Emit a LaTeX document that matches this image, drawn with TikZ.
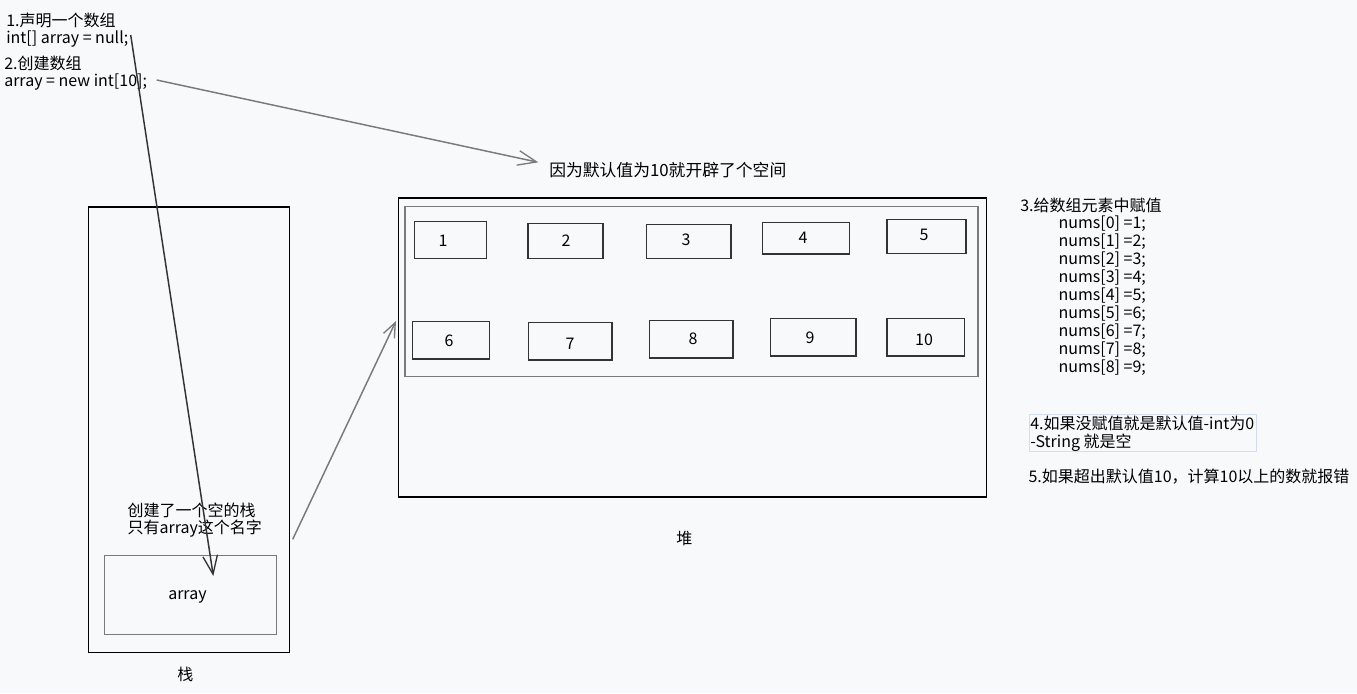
\documentclass[tikz,border=0pt]{standalone}
\usepackage{fontspec}
\setmainfont{Noto Sans CJK SC}
\usetikzlibrary{arrows.meta,fit}
\definecolor{bg}{HTML}{F8F9FB}
\definecolor{lgrey}{HTML}{7A7A7A}
\definecolor{dgrey}{HTML}{333333}
\definecolor{lblue}{HTML}{D2DDF0}
\tikzset{
  txt/.style={inner sep=0pt, anchor=base west, align=left, font=\fontsize{12}{12.75}\selectfont},
  outerbox/.style={draw=black, line width=0.8pt, inner sep=0pt},
  innerbox/.style={draw=lgrey, line width=1.1pt, inner sep=0pt},
  cell/.style={draw=dgrey, line width=1pt, inner sep=0pt},
  num/.style={inner sep=0pt, font=\fontsize{12}{12}\selectfont},
  barb/.style={-{Straight Barb[length=14pt,width=11pt,line width=1pt]}, line width=1.1pt},
}
\begin{document}
\begin{tikzpicture}[x=0.75pt,y=-0.75pt]
\fill[bg] (0,0) rectangle (1357,693);
\useasboundingbox (0,0) rectangle (1357,693);

% top-left texts
\node[txt] (t1) at (6,43) {1.声明一个数组\\int[] array = null;};
\node[txt] (t2) at (4,86) {2.创建数组\\array = new int[10];};
\coordinate (a1s) at (130.7,35);
\coordinate (a2s) at (156.7,80);

% stack
\coordinate (s1) at (88.5,207); \coordinate (s2) at (289.5,652.3);
\node[outerbox, fit=(s1)(s2)] (stack) {};
\coordinate (ar1) at (104.3,555.7); \coordinate (ar2) at (276.3,634.3);
\node[innerbox, fit=(ar1)(ar2)] (arr) {};
\node[txt] (arrtxt) at (168,599.3) {array};
\node[txt] (stxt) at (127.3,533.3) {创建了一个空的栈\\只有array这个名字};
\node[txt] (zhan) at (177,680) {栈};
\coordinate (a1e) at (213.3,576);
\coordinate (a3s) at (292.7,539.3);
\coordinate (a3e) at (396,321);

% heap
\coordinate (h1) at (398.5,198); \coordinate (h2) at (986.5,497);
\node[outerbox, fit=(h1)(h2)] (heap) {};
\coordinate (hi1) at (405,206.5); \coordinate (hi2) at (978,376.5);
\node[innerbox, fit=(hi1)(hi2)] (heapin) {};
\node[txt] (dui) at (676,544) {堆};

\coordinate (c1a) at (414.6,221.7); \coordinate (c1b) at (486.6,258.3);
\coordinate (c2a) at (528,223.3);   \coordinate (c2b) at (603,258.3);
\coordinate (c3a) at (646.5,224.3); \coordinate (c3b) at (731,258.3);
\coordinate (c4a) at (762.3,222.3); \coordinate (c4b) at (849.3,254);
\coordinate (c5a) at (887,219.3);   \coordinate (c5b) at (966,253.3);
\coordinate (c6a) at (412.3,321.7); \coordinate (c6b) at (489.6,359);
\coordinate (c7a) at (528.5,322.7); \coordinate (c7b) at (612,360);
\coordinate (c8a) at (649.2,320.3); \coordinate (c8b) at (733,358);
\coordinate (c9a) at (770.8,318.7); \coordinate (c9b) at (856,356);
\coordinate (c10a) at (887,318.7);  \coordinate (c10b) at (964.6,356);
\foreach \i in {1,...,10} {\node[cell, fit=(c\i a)(c\i b)] (c\i) {};}

\node[num] (n1) at (443,241) {1};
\node[num] (n2) at (566,241) {2};
\node[num] (n3) at (686,240) {3};
\node[num] (n4) at (803,238) {4};
\node[num] (n5) at (924,235) {5};
\node[num] (n6) at (449,341) {6};
\node[num] (n7) at (570,344) {7};
\node[num] (n8) at (693,339) {8};
\node[num] (n9) at (810,338) {9};
\node[num] (n10) at (924,340) {10};

\node[txt, font=\fontsize{12.6}{12.6}\selectfont] (kb) at (549,176.7) {因为默认值为10就开辟了个空间};
\coordinate (a2e) at (538.3,162.3);

% right texts
\node[txt] (r3) at (1020,211.7) {3.给数组元素中赋值};
\node[txt, font=\fontsize{12}{13.45}\selectfont] (nums) at (1058.3,372.3) {nums[0] =1;\\nums[1] =2;\\nums[2] =3;\\nums[3] =4;\\nums[4] =5;\\nums[5] =6;\\nums[6] =7;\\nums[7] =8;\\nums[8] =9;};
\coordinate (b4a) at (1029.3,414.3); \coordinate (b4b) at (1256.7,451);
\node[draw=lblue, line width=0.6pt, inner sep=0pt, fit=(b4a)(b4b)] (box4) {};
\node[txt, font=\fontsize{12}{13.5}\selectfont] (r4) at (1030,447.3) {4.如果没赋值就是默认值-int为0\\-String 就是空};
\node[txt] (r5) at (1028.3,482.7) {5.如果超出默认值10，计算10以上的数就报错};

% arrows
\draw[barb, dgrey] (a1s) -- (a1e);
\draw[barb, lgrey] (a2s) -- (a2e);
\draw[barb, lgrey, -{Straight Barb[length=11pt,width=9pt,line width=1pt]}] (a3s) -- (a3e);
\end{tikzpicture}
\end{document}
